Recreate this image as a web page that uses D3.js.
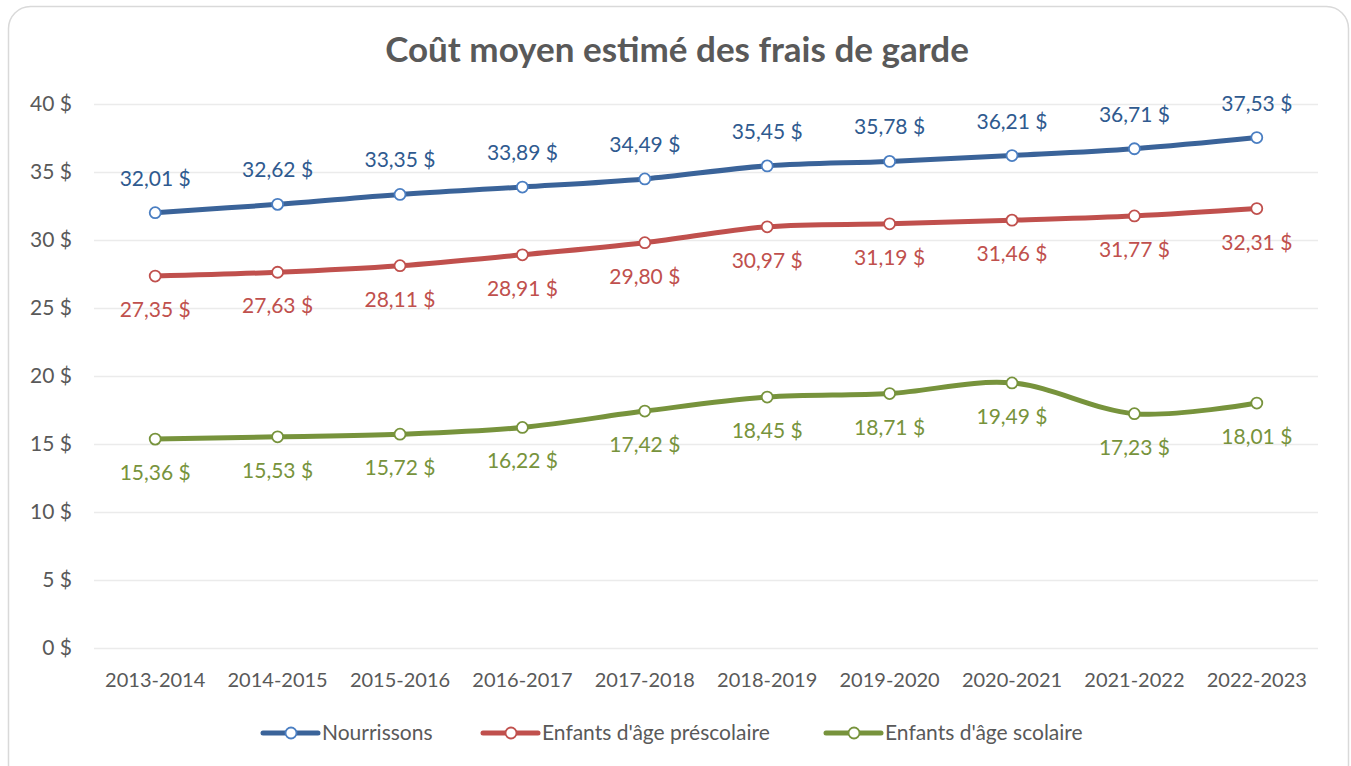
<!DOCTYPE html>
<html>
<head>
<meta charset="utf-8">
<script src="https://cdn.jsdelivr.net/npm/d3@7"></script>
<style>
  html, body { margin: 0; padding: 0; background: #fff; }
  svg { display: block; font-family: Lato, "Open Sans", sans-serif; }
</style>
</head>
<body>
<div id="chart"></div>
<script>
// ─── data ────────────────────────────────────────────────────────────────────
const years = ["2013-2014", "2014-2015", "2015-2016", "2016-2017", "2017-2018",
               "2018-2019", "2019-2020", "2020-2021", "2021-2022", "2022-2023"];
const nourrissons = [32.01, 32.62, 33.35, 33.89, 34.49, 35.45, 35.78, 36.21, 36.71, 37.53];
const prescolaire = [27.35, 27.63, 28.11, 28.91, 29.80, 30.97, 31.19, 31.46, 31.77, 32.31];
const scolaire = [15.36, 15.53, 15.72, 16.22, 17.42, 18.45, 18.71, 19.49, 17.23, 18.01];
const yTicks = [0, 5, 10, 15, 20, 25, 30, 35, 40];

const series = [
    { name: "Nourrissons", values: nourrissons, line: "#3a6399", marker: "#4a7ec2", text: "#2f5a8f", dy: -27 },
    { name: "Enfants d'âge préscolaire", values: prescolaire, line: "#c0504d", marker: "#c0504d", text: "#c0504d", dy: 41 },
    { name: "Enfants d'âge scolaire", values: scolaire, line: "#77933c", marker: "#77933c", text: "#77933c", dy: 41 }
];

// ─── layout ──────────────────────────────────────────────────────────────────
const W = 1351, H = 766;
const plot = { left: 94, right: 1318, top: 104, bottom: 648 };
const FONT = "Lato, 'Open Sans', sans-serif";

const svg = d3.select("#chart").append("svg")
    .attr("width", W).attr("height", H);

svg.append("rect")
    .attr("x", 8.5).attr("y", 6.5)
    .attr("width", 1340).attr("height", 780)
    .attr("rx", 22)
    .attr("fill", "#fff").attr("stroke", "#d9d9d9").attr("stroke-width", 1.5);

svg.append("text")
    .attr("x", 677).attr("y", 62)
    .attr("text-anchor", "middle")
    .attr("font-size", 35).attr("font-weight", "bold")
    .attr("fill", "#595959")
    .text("Coût moyen estimé des frais de garde");

const x = d3.scaleBand().domain(years).range([plot.left, plot.right]);
const y = d3.scaleLinear().domain([0, 40]).range([plot.bottom, plot.top]);
const fmt = v => d3.format(".2f")(v).replace(".", ",") + " $";

// gridlines + y labels
const yAxis = d3.axisLeft(y).tickValues(yTicks)
    .tickSize(-(plot.right - plot.left)).tickPadding(22)
    .tickFormat(d => d + " $");
const gy = svg.append("g").attr("transform", `translate(${plot.left},0)`).call(yAxis);
gy.select(".domain").remove();
gy.selectAll(".tick line").attr("stroke", "#ebebeb").attr("stroke-width", 1.5);
gy.selectAll(".tick text").attr("font-size", 21).attr("fill", "#595959")
    .attr("font-family", FONT);

// x labels
const xAxis = d3.axisBottom(x).tickSize(0).tickPadding(25);
const gx = svg.append("g").attr("transform", `translate(0,${plot.bottom})`).call(xAxis);
gx.select(".domain").remove();
gx.selectAll(".tick text").attr("font-size", 20).attr("fill", "#595959")
    .attr("font-family", FONT);

const cx = d => x(d) + x.bandwidth() / 2;
const line = d3.line()
    .x((d, i) => cx(years[i]))
    .y(d => y(d))
    .curve(d3.curveCatmullRom.alpha(0));

series.forEach(s => {
    const g = svg.append("g");
    g.append("path")
        .datum(s.values)
        .attr("d", line)
        .attr("fill", "none")
        .attr("stroke", s.line)
        .attr("stroke-width", 5)
        .attr("stroke-linecap", "round");
    g.selectAll("circle").data(s.values).join("circle")
        .attr("cx", (d, i) => cx(years[i]))
        .attr("cy", d => y(d))
        .attr("r", 5.5)
        .attr("fill", "#fff")
        .attr("stroke", s.marker)
        .attr("stroke-width", 1.8);
    g.selectAll("text").data(s.values).join("text")
        .attr("x", (d, i) => cx(years[i]))
        .attr("y", d => y(d) + s.dy)
        .attr("text-anchor", "middle")
        .attr("font-size", 21)
        .attr("fill", s.text)
        .text(fmt);
});

// legend
const legendX = [263, 483, 826];
series.forEach((s, i) => {
    const lg = svg.append("g").attr("transform", `translate(${legendX[i]},733)`);
    lg.append("line").attr("x1", 0).attr("x2", 55)
        .attr("stroke", s.line).attr("stroke-width", 5).attr("stroke-linecap", "round");
    lg.append("circle").attr("cx", 28).attr("r", 5.5)
        .attr("fill", "#fff").attr("stroke", s.marker).attr("stroke-width", 1.8);
    lg.append("text").attr("x", 59).attr("y", 7)
        .attr("font-size", 21).attr("fill", "#595959")
        .text(s.name);
});
</script>
</body>
</html>
